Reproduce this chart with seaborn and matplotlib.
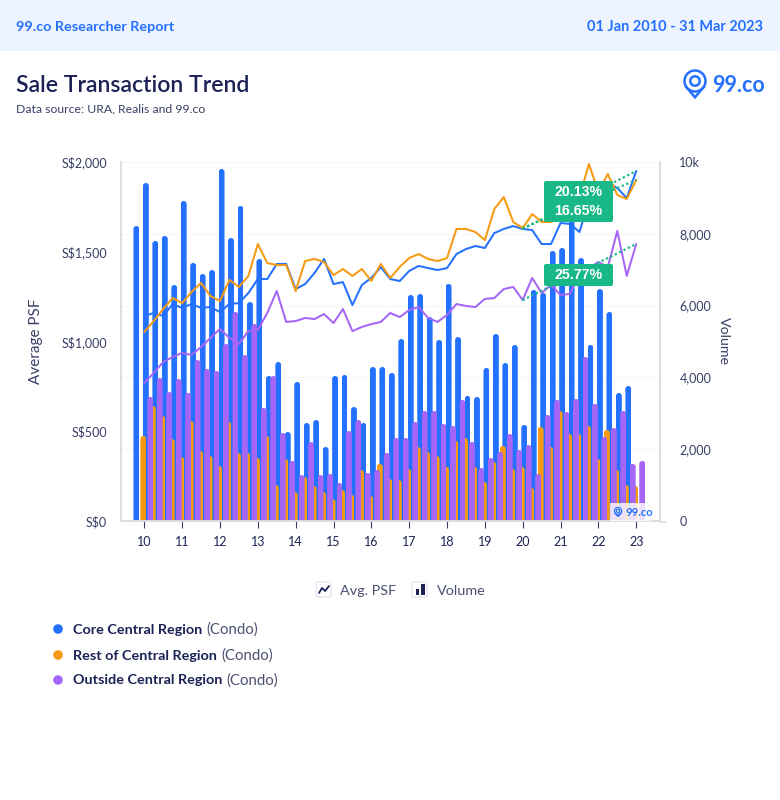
import numpy as np
import pandas as pd
import seaborn as sns
import matplotlib
matplotlib.use("Agg")
import matplotlib.pyplot as plt
from matplotlib.patches import FancyBboxPatch, Circle, Rectangle, Polygon

sns.set_theme(style="white")
plt.rcParams['font.family'] = ['Lato', 'DejaVu Sans']

regions = ["Core Central Region", "Rest of Central Region", "Outside Central Region"]
year_labels = ["10","11","12","13","14","15","16","17","18","19","20","21","22","23"]

vol_ccr = [8217,9415,7799,7939,6574,8914,7187,6880,6992,9805,7883,8774,6100,7298,4039,4429,2479,3872,2730,2813,
           2061,4039,4067,3175,2730,4290,4290,4123,5070,6295,6323,5682,5042,6602,5125,3482,3454,4262,5209,4401,
           4902,2674,6435,6351,7521,7604,8802,7326,4902,6462,5822,3565,3760]
vol_rcr = [2368,3203,2925,2284,1783,2786,1950,1811,1532,2758,1894,1894,1755,2368,1003,1727,808,1226,975,808,
           613,864,724,1421,696,1588,1170,1142,1448,2061,1922,1811,1504,2228,2312,1504,1086,1643,2089,1448,
           1504,919,2618,2061,3064,2423,2423,2646,1727,2535,1421,1003,975]
vol_ocr = [3454,3983,3593,3955,3565,4485,4234,4178,4930,5822,4624,5487,3148,4039,2451,1671,1281,2200,1281,1309,
           1058,2507,2813,1337,1421,1894,2312,2312,2758,3064,3064,2702,2646,3370,2200,1476,1755,1922,2423,1978,
           2117,1309,2953,3370,3036,3398,4568,3259,2340,2591,3064,1588,1671]

psf_ccr = [1142,1159,1142,1209,1187,1209,1187,1192,1164,1209,1214,1270,1348,1348,1432,1432,1292,1320,1382,1460,
           1320,1331,1203,1315,1354,1415,1348,1337,1393,1421,1409,1398,1409,1487,1515,1532,1521,1604,1627,1643,
           1627,1621,1543,1543,1660,1655,1610,1788,1861,1883,1855,1799,1950]
psf_rcr = [1053,1114,1181,1242,1214,1276,1326,1253,1226,1343,1304,1365,1543,1437,1426,1426,1281,1448,1460,1443,
           1370,1404,1365,1404,1337,1432,1354,1415,1465,1487,1460,1448,1465,1627,1627,1610,1565,1738,1805,1666,
           1632,1710,1666,1666,1688,1716,1805,1989,1833,1933,1816,1794,1900]
psf_ocr = [769,825,886,914,936,925,969,1020,1070,1020,986,1058,1064,1159,1281,1109,1114,1131,1125,1153,
           1103,1181,1058,1081,1097,1109,1159,1136,1175,1192,1131,1109,1148,1209,1198,1192,1237,1242,1292,1304,
           1231,1354,1270,1315,1259,1265,1382,1409,1443,1415,1616,1365,1543]
trend_labels = ["20.13%", "16.65%", "25.77%"]

BLUE, ORANGE, PURPLE = "#2470FF", "#F59A12", "#A566F8"
NAVY, GREEN, HEAD = "#1C2255", "#18B987", "#2470FF"
palette = dict(zip(regions, [BLUE, ORANGE, PURPLE]))

n = len(vol_ccr)
idx = np.arange(n)
vol = pd.DataFrame({"q": np.tile(idx, 3) - 0.1, "region": np.repeat(regions, n),
                    "volume": np.r_[vol_ccr, vol_rcr, vol_ocr]})
psf = pd.DataFrame({"q": np.tile(idx, 3), "region": np.repeat(regions, n),
                    "psf": np.r_[psf_ccr, psf_rcr, psf_ocr]})

W, H = 780, 800
fig = plt.figure(figsize=(W/100, H/100), dpi=100, facecolor="white")
L, R, T, B = 121, 660, 162, 521
ax = fig.add_axes([L/W, 1-B/H, (R-L)/W, (B-T)/H])
ax2 = ax.twinx()
X0, DX = 144.3, 9.46
xlim = ((L-X0)/DX, (R-X0)/DX)

sns.barplot(data=vol, x="q", y="volume", hue="region", hue_order=regions, palette=palette,
            native_scale=True, width=2.2, gap=0.15, saturation=1, legend=False, ax=ax2,
            errorbar=None)
sns.lineplot(data=psf, x="q", y="psf", hue="region", hue_order=regions, palette=palette,
             linewidth=1.45, legend=False, ax=ax, estimator=None, errorbar=None, zorder=3)

ax.set_xlim(xlim); ax2.set_xlim(xlim)
ax.set_ylim(0, 2000); ax2.set_ylim(0, 10000)
ax.set_zorder(ax2.get_zorder()+1); ax.patch.set_visible(False)
ax2.patch.set_visible(True)

# rounded bar tops, clipped from each seaborn bar
aspect = (10000/(B-T)) * DX
for cont in ax2.containers:
    for r in cont:
        x, w, h = r.get_x(), r.get_width(), r.get_height()
        clip = FancyBboxPatch((x, -h), w, 2*h, boxstyle=f"round,pad=0,rounding_size={w/2}",
                              mutation_aspect=aspect, transform=ax2.transData, fc="none", ec="none")
        r.set_clip_path(clip)
        r.set_linewidth(0)

# growth trends from Q1 2020 to Q1 2023
for s in (psf_ccr, psf_rcr, psf_ocr):
    ax.plot([40, 52], [s[40], s[52]], ls=(0, (1, 1.2)), color=GREEN, lw=1.6, zorder=4)

ax.set_xticks(idx[::4]); ax.set_xticklabels(year_labels)
ax.set_yticks([0, 500, 1000, 1500, 2000])
ax.set_yticklabels(["S$0", "S$500", "S$1,000", "S$1,500", "S$2,000"])
ax2.set_yticks([0, 2000, 4000, 6000, 8000, 10000])
ax2.set_yticklabels(["0", "2,000", "4,000", "6,000", "8,000", "10k"])
ax.set_xlabel(""); ax.set_ylabel(""); ax2.set_xlabel(""); ax2.set_ylabel("")
ax.tick_params(axis="x", length=5, width=0.8, color="#3a3f66", labelsize=9, labelcolor=NAVY, pad=6, bottom=True)
ax.tick_params(axis="y", length=0, labelsize=9, labelcolor="#3a3f66", pad=10, left=False)
ax2.tick_params(axis="y", length=0, labelsize=9, labelcolor="#3a3f66", pad=14, right=False)
ax2.tick_params(axis="x", bottom=False, labelbottom=False)
ax2.yaxis.grid(True, color="#F7F7F7", lw=0.8); ax2.set_axisbelow(True)
for a in (ax, ax2):
    for k, sp in a.spines.items():
        sp.set_visible(k in ("left", "bottom", "right"))
        sp.set_color("#DDDDE3"); sp.set_linewidth(1.2)

# page furniture, placed in pixels
ov = fig.add_axes([0, 0, 1, 1], zorder=20)
ov.set_xlim(0, W); ov.set_ylim(H, 0); ov.axis("off"); ov.patch.set_visible(False)
ov.add_patch(Rectangle((0, 0), W, 51, fc="#EEF4FF", ec="none"))
ov.plot([660, 666], [521.5, 521.5], color="#DDDDE3", lw=1.2)
ov.text(16, 27, "99.co Researcher Report", color=HEAD, fontsize=10.35, weight="bold", va="center")
ov.text(763, 27, "01 Jan 2010 - 31 Mar 2023", color=HEAD, fontsize=10.45, weight="bold", va="center", ha="right")
ov.text(16, 85.5, "Sale Transaction Trend", color=NAVY, fontsize=16.6, weight="semibold", va="center")
ov.text(16, 109, "Data source: URA, Realis and 99.co", color="#3a3f66", fontsize=8.85, va="center")
ov.text(36, 341, "Average PSF", color="#3a3f66", fontsize=11, rotation=90, va="center", ha="center")
ov.text(724, 341, "Volume", color="#3a3f66", fontsize=10.2, rotation=270, va="center", ha="center")

def pin(cx, cy, r, lw):
    ov.add_patch(Circle((cx, cy), r, fc="none", ec=HEAD, lw=lw))
    ov.add_patch(Circle((cx, cy), r*0.45, fc="none", ec=HEAD, lw=lw))
    ov.add_patch(Polygon([(cx-r*0.9, cy+r*0.5), (cx, cy+r*1.55), (cx+r*0.9, cy+r*0.5)], closed=False,
                         fc="none", ec=HEAD, lw=lw))

pin(695, 81, 10.5, 1.8)
ov.text(712, 85, "99.co", color=HEAD, fontsize=15.5, weight="bold", va="center", family="Lato")

# watermark
ov.add_patch(Rectangle((610, 503), 40, 18, fc="white", ec="none", alpha=0.8))
pin(618, 511, 3.6, 0.9)
ov.text(626, 512.5, "99.co", color=HEAD, fontsize=8, weight="bold", va="center")

# trend labels
for (x0, y0, x1, y1) in [(544, 181, 613, 222), (544, 264, 613, 286)]:
    ov.add_patch(FancyBboxPatch((x0+2, y0+2), x1-x0-4, y1-y0-4, boxstyle="round,pad=2,rounding_size=2",
                                fc=GREEN, ec="none"))
for lab, y in zip(trend_labels, [192, 211, 275]):
    ov.text(578.5, y, lab, color="white", fontsize=10.2, weight="bold", ha="center", va="center",
            family=["Liberation Sans", "DejaVu Sans"])

# chart-type toggles
for x0, t in [(316, "Avg. PSF"), (412, "Volume")]:
    ov.add_patch(FancyBboxPatch((x0, 582), 15, 15, boxstyle="round,pad=0,rounding_size=2", fc="white", ec="#E6E8F0", lw=1))
ov.plot([319, 322, 325, 329], [593, 588, 591, 586], color=NAVY, lw=1.3)
ov.add_patch(Rectangle((416, 589), 3, 6, fc=NAVY, ec="none"))
ov.add_patch(Rectangle((421, 584), 4, 11, fc=NAVY, ec="none"))
ov.text(340, 591, "Avg. PSF", color="#4a5070", fontsize=10.4, va="center")
ov.text(437, 591, "Volume", color="#4a5070", fontsize=10.4, va="center")

# region legend
fig.canvas.draw()
rend = fig.canvas.get_renderer()
for name, col, y in zip(regions, [BLUE, ORANGE, PURPLE], [629, 655, 680]):
    ov.add_patch(Circle((58, y), 4.8, fc=col, ec="none"))
    t = ov.text(73, y + 0.5, name, color=NAVY, fontsize=10.4, weight="bold", va="center")
    ext = t.get_window_extent(rend)
    ov.text(ext.x1 + 4, y + 0.5, "(Condo)", color="#4a5070", fontsize=10.8, va="center")

fig.savefig("out.png", dpi=100)
